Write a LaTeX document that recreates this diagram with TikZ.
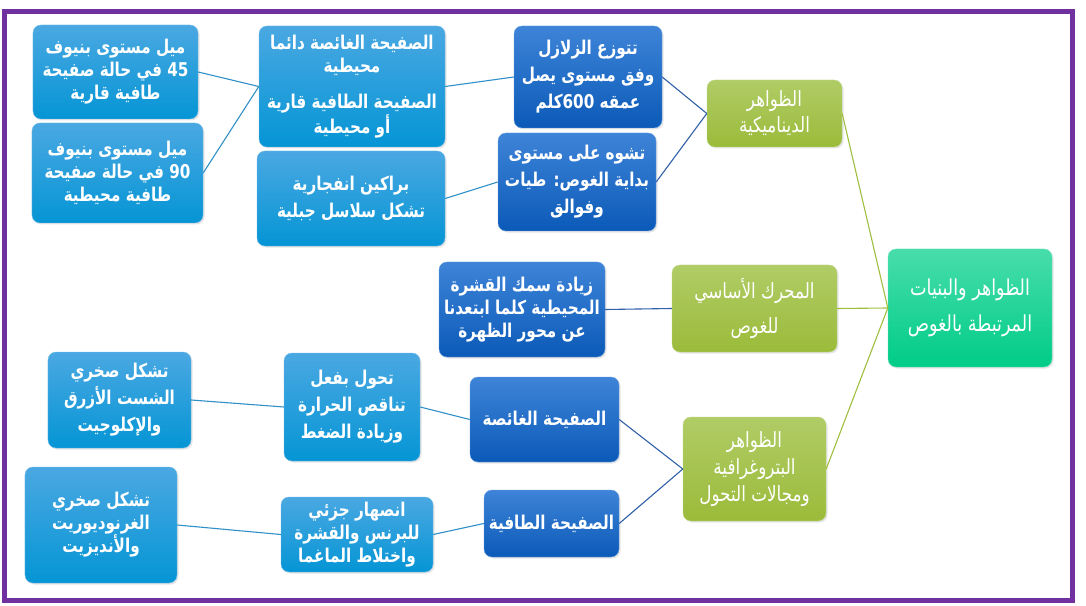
\documentclass[tikz,border=0pt]{standalone}
\usepackage{fontspec}
\usetikzlibrary{shadows}
\TeXXeTstate=1
\newfontfamily\arabicfont[Script=Arabic, FakeStretch=0.8]{DejaVu Sans}
\definecolor{lbtop}{HTML}{4AA8E2}
\definecolor{lbbot}{HTML}{0595D5}
\definecolor{dbtop}{HTML}{3E84D8}
\definecolor{dbbot}{HTML}{0B5AB8}
\definecolor{grtop}{HTML}{B0CC66}
\definecolor{grbot}{HTML}{9BBB3A}
\definecolor{tltop}{HTML}{48DDAA}
\definecolor{tlbot}{HTML}{00CC88}
\definecolor{lline}{HTML}{3090C8}
\definecolor{dline}{HTML}{3060A8}
\definecolor{gline}{HTML}{A0BF40}
\definecolor{frame}{HTML}{7030A0}
\newcommand{\fs}[1]{\fontsize{19bp}{#1}\selectfont}
\newcommand{\gfs}[1]{\fontsize{21bp}{#1}\selectfont}
\tikzset{
  boxbase/.style={rectangle, rounded corners=8bp, align=center, text=white,
    inner sep=2bp, font=\arabicfont\bfseries\fs{23bp},
    drop shadow={opacity=0.2, shadow xshift=1.5bp, shadow yshift=-1.5bp}},
  lbox/.style={boxbase, top color=lbtop, bottom color=lbbot, draw=lbtop!80!white},
  dbox/.style={boxbase, top color=dbtop, bottom color=dbbot, draw=dbtop!80!white},
  gbox/.style={boxbase, top color=grtop, bottom color=grbot, draw=grtop!80!white,
    font=\arabicfont\gfs{26bp}},
  tbox/.style={boxbase, top color=tltop, bottom color=tlbot, draw=tltop!80!white,
    font=\arabicfont\fontsize{22bp}{36bp}\selectfont},
  wide/.style={font=\arabicfont\bfseries\fs{27bp}},
  lconn/.style={draw=lline, line width=1.1bp},
  dconn/.style={draw=dline, line width=1.1bp},
  gconn/.style={draw=gline, line width=1.1bp},
}
\begin{document}
\begin{tikzpicture}[x=1bp, y=-1bp]
\useasboundingbox (0,0) rectangle (1086,606);
\fill[white] (0,0) rectangle (1086,606);
\draw[frame, line width=5bp] (4.5,11.5) rectangle (1072.5,600);

% top branch
\node[lbox, minimum width=165bp, minimum height=94bp] (b45) at (115.5,72)
  {\beginR ميل مستوى بنيوف\endR\\ \beginR 45 في حالة صفيحة\endR\\ \beginR طافية قارية\endR};
\node[lbox, minimum width=171bp, minimum height=100bp] (b90) at (117.5,173)
  {\beginR ميل مستوى بنيوف\endR\\ \beginR 90 في حالة صفيحة\endR\\ \beginR طافية محيطية\endR};
\node[lbox, minimum width=186bp, minimum height=121bp] (bplates) at (352,86.5)
  {\beginR الصفيحة الغائصة دائما\endR\\ \beginR محيطية\endR\\[13bp] \beginR الصفيحة الطافية قارية\endR\\ \beginR أو محيطية\endR};
\node[lbox, wide, minimum width=188bp, minimum height=95bp] (bvolc) at (351,198.5)
  {\beginR براكين انفجارية\endR\\ \beginR تشكل سلاسل جبلية\endR};
\node[dbox, wide, minimum width=148bp, minimum height=102bp] (bquake) at (588,77)
  {\beginR تتوزع الزلازل\endR\\ \beginR وفق مستوى يصل\endR\\ \beginR عمقه \mbox{600}كلم\endR};
\node[dbox, wide, minimum width=158bp, minimum height=98bp] (bdeform) at (577,182)
  {\beginR تشوه على مستوى\endR\\ \beginR بداية الغوص: طيات\endR\\ \beginR وفوالق\endR};
\node[gbox, minimum width=135bp, minimum height=67bp] (gdyn) at (774.5,113.5)
  {\beginR الظواهر\endR\\ \beginR الديناميكية\endR};

% middle branch
\node[dbox, minimum width=166bp, minimum height=95bp] (bthick) at (522,309.5)
  {\beginR زيادة سمك القشرة\endR\\ \beginR المحيطية كلما ابتعدنا\endR\\ \beginR عن محور الظهرة\endR};
\node[gbox, minimum width=165bp, minimum height=87bp, font=\arabicfont\gfs{35bp}] (gmotor) at (754.5,308.5)
  {\beginR المحرك الأساسي\endR\\ \beginR للغوص\endR};
\node[tbox, minimum width=164bp, minimum height=118bp] (tmain) at (970,308)
  {\beginR الظواهر والبنيات\endR\\ \beginR المرتبطة بالغوص\endR};

% bottom branch
\node[lbox, wide, minimum width=143bp, minimum height=96bp] (bschist) at (119.5,400)
  {\beginR تشكل صخري\endR\\ \beginR الشست الأزرق\endR\\ \beginR والإكلوجيت\endR};
\node[lbox, wide, minimum width=136bp, minimum height=108bp] (bmeta) at (352,407)
  {\beginR تحول بفعل\endR\\ \beginR تناقص الحرارة\endR\\ \beginR وزيادة الضغط\endR};
\node[lbox, minimum width=152bp, minimum height=116bp] (bgrano) at (101,525)
  {\beginR تشكل صخري\endR\\ \beginR الغرنوديوريت\endR\\ \beginR والأنديزيت\endR};
\node[lbox, minimum width=152bp, minimum height=75bp] (bmelt) at (357,534.5)
  {\beginR انصهار جزئي\endR\\ \beginR للبرنس والقشرة\endR\\ \beginR واختلاط الماغما\endR};
\node[dbox, minimum width=149bp, minimum height=85bp] (dsub) at (544.5,419.5)
  {\beginR الصفيحة الغائصة\endR};
\node[dbox, minimum width=135bp, minimum height=67bp] (dover) at (551.5,523.5)
  {\beginR الصفيحة الطافية\endR};
\node[gbox, minimum width=143bp, minimum height=104bp, font=\arabicfont\gfs{27bp}] (gpetro) at (754.5,469)
  {\beginR الظواهر\endR\\ \beginR البتروغرافية\endR\\ \beginR ومجالات التحول\endR};

% connectors
\path[lconn] (b45.east) -- (bplates.west);
\path[lconn] (b90.east) -- (bplates.west);
\path[lconn] (bplates.east) -- (bquake.west);
\path[lconn] (bvolc.east) -- (bdeform.west);
\path[dconn] (bquake.east) -- (gdyn.west);
\path[dconn] (bdeform.east) -- (gdyn.west);
\path[gconn] (gdyn.east) -- (tmain.west);
\path[dconn] (bthick.east) -- (gmotor.west);
\path[gconn] (gmotor.east) -- (tmain.west);
\path[gconn] (gpetro.east) -- (tmain.west);
\path[dconn] (dsub.east) -- (gpetro.west);
\path[dconn] (dover.east) -- (gpetro.west);
\path[lconn] (bmeta.east) -- (dsub.west);
\path[lconn] (bschist.east) -- (bmeta.west);
\path[lconn] (bmelt.east) -- (dover.west);
\path[lconn] (bgrano.east) -- (bmelt.west);
\end{tikzpicture}
\end{document}
